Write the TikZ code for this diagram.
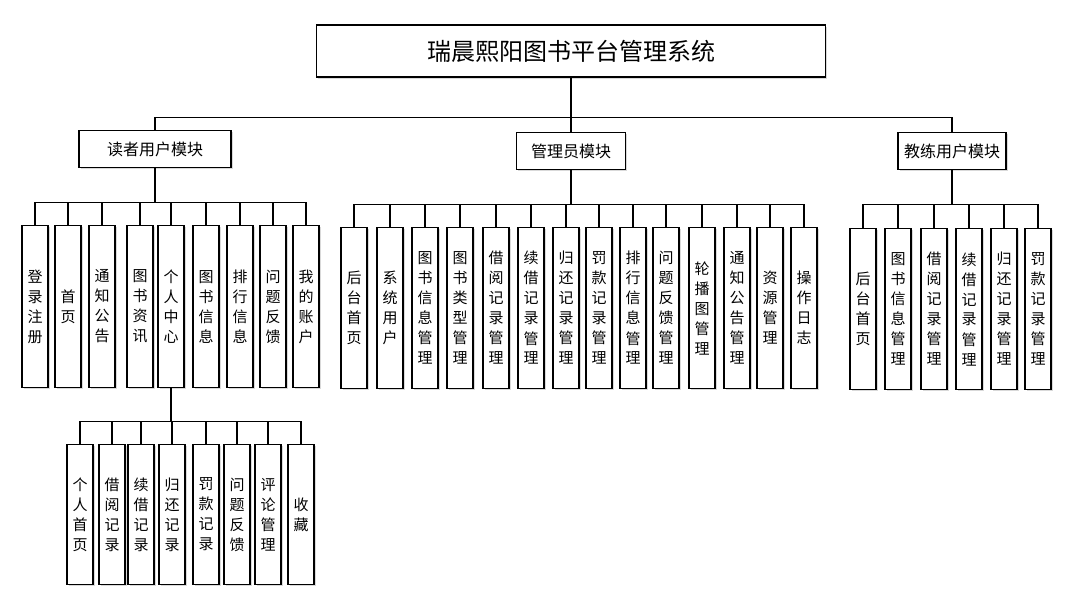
\documentclass[tikz,border=0pt]{standalone}
\usepackage{fontspec}
\setmainfont{Noto Sans CJK SC}
\usetikzlibrary{calc,shadows}
\definecolor{shade}{HTML}{D9D9D9}

\tikzset{
  sysbox/.style={draw,line width=1.1pt,fill=white,inner sep=0pt,
    drop shadow={shadow xshift=1.6pt,shadow yshift=-1.6pt,fill=shade,opacity=1}},
  rootbox/.style={sysbox,minimum width=509pt,minimum height=52pt,font=\fontsize{24}{28}\selectfont},
  modbox/.style={sysbox,minimum height=37pt,font=\fontsize{16}{20}\selectfont},
  leafbox/.style={sysbox,minimum width=26pt,minimum height=#1,anchor=north,align=center,
    font=\fontsize{15}{20}\selectfont},
  link/.style={line width=1.1pt}
}

\begin{document}
\begin{tikzpicture}[x=1pt,y=-1pt]
\useasboundingbox (0,0) rectangle (1078,604);

% top level
\node[rootbox] (root) at (571,51) {瑞晨熙阳图书平台管理系统};
\node[modbox,minimum width=152pt] (rm) at (155,149) {读者用户模块};
\node[modbox,minimum width=109pt] (am) at (571,151) {管理员模块};
\node[modbox,minimum width=108pt] (cm) at (952,151) {教练用户模块};

\coordinate (topbus) at ($(root.south)+(0,40)$);
\draw[link] (root.south) -- (topbus);
\foreach \m in {rm,am,cm}
  \draw[link] (topbus) -| (\m.north);

% reader module
\foreach \n/\x/\t in {1/35/登\\录\\注\\册, 2/68/首\\页, 3/102/通\\知\\公\\告,
    4/140/图\\书\\资\\讯, 5/171/个\\人\\中\\心, 6/206/图\\书\\信\\息,
    7/240/排\\行\\信\\息, 8/273/问\\题\\反\\馈, 9/306/我\\的\\账\\户}
  \node[leafbox=162pt] (r\n) at (\x,225) {\t};
\coordinate (rbus) at ($(rm.south)+(0,34)$);
\draw[link] (rm.south) -- (rbus);
\foreach \n in {1,...,9}
  \draw[link] (rbus) -| (r\n.north);

% personal centre
\foreach \n/\x/\t in {1/80/个\\人\\首\\页, 2/112/借\\阅\\记\\录, 3/141/续\\借\\记\\录,
    4/172/归\\还\\记\\录, 5/206/罚\\款\\记\\录, 6/237/问\\题\\反\\馈,
    7/268/评\\论\\管\\理, 8/301/收\\藏}
  \node[leafbox=140pt] (p\n) at (\x,444) {\t};
\coordinate (pbus) at ($(r5.south)+(0,33)$);
\draw[link] (r5.south) -- (pbus);
\foreach \n in {1,...,8}
  \draw[link] (pbus) -| (p\n.north);

% admin module
\foreach \n/\x/\t in {1/354/后\\台\\首\\页, 2/390/系\\统\\用\\户, 3/425/图\\书\\信\\息\\管\\理,
    4/460/图\\书\\类\\型\\管\\理, 5/496/借\\阅\\记\\录\\管\\理, 6/531/续\\借\\记\\录\\管\\理,
    7/566/归\\还\\记\\录\\管\\理, 8/599/罚\\款\\记\\录\\管\\理, 9/633/排\\行\\信\\息\\管\\理,
    10/666/问\\题\\反\\馈\\管\\理, 11/702/轮\\播\\图\\管\\理, 12/737/通\\知\\公\\告\\管\\理,
    13/770/资\\源\\管\\理, 14/804/操\\作\\日\\志}
  \node[leafbox=161pt] (a\n) at (\x,227) {\t};
\coordinate (abus) at ($(am.south)+(0,34)$);
\draw[link] (am.south) -- (abus);
\foreach \n in {1,...,14}
  \draw[link] (abus) -| (a\n.north);

% coach module
\foreach \n/\x/\t in {1/863/后\\台\\首\\页, 2/898/图\\书\\信\\息\\管\\理, 3/934/借\\阅\\记\\录\\管\\理,
    4/969/续\\借\\记\\录\\管\\理, 5/1004/归\\还\\记\\录\\管\\理, 6/1038/罚\\款\\记\\录\\管\\理}
  \node[leafbox=161pt] (c\n) at (\x,228) {\t};
\coordinate (cbus) at ($(cm.south)+(0,34)$);
\draw[link] (cm.south) -- (cbus);
\foreach \n in {1,...,6}
  \draw[link] (cbus) -| (c\n.north);
\end{tikzpicture}
\end{document}
